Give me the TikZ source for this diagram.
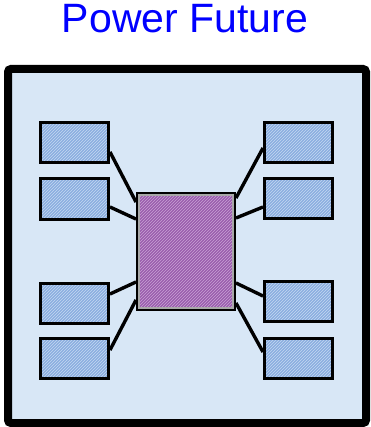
\documentclass[tikz,border=0pt]{standalone}
\usepackage{fontspec}
\setmainfont{Liberation Sans}
\usetikzlibrary{positioning,calc,backgrounds,patterns}
\definecolor{pfTitle}{HTML}{0000FF}
\definecolor{pfSky}{HTML}{D8E7F6}
\definecolor{pfBlue}{HTML}{8BAEE0}
\definecolor{pfBlueHi}{HTML}{C4D8F2}
\definecolor{pfPurple}{HTML}{9A5EAD}
\definecolor{pfPurpleHi}{HTML}{C9A2D5}
\definecolor{pfRim}{HTML}{A8A8A8}

\begin{document}
\begin{tikzpicture}[x=1pt, y=-1pt,
  frame/.style={draw=black, fill=pfSky, line width=8pt, rounded corners=3pt},
  unit/.style={draw=black, line width=3pt, preaction={fill=pfBlue},
               pattern=north east lines, pattern color=pfBlueHi,
               minimum width=68pt, minimum height=40pt, inner sep=0pt},
  hub/.style={draw=black, line width=3pt, preaction={fill=pfPurple},
              pattern=north east lines, pattern color=pfPurpleHi,
              minimum width=97pt, minimum height=116pt, inner sep=0pt},
  rim/.style={draw=pfRim, line width=1.6pt},
  wire/.style={draw=black, line width=3.4pt},
  title/.style={text=pfTitle, font=\fontsize{41}{41}\selectfont, anchor=base},
]
\useasboundingbox (0,0) rectangle (370,427);

\node[title] (title) at (185,33) {Power Future};

\node[hub] (hub) at (186,251.5) {};
\draw[rim] ([shift={(2.8pt,-2.8pt)}]hub.north west)
  rectangle ([shift={(-2.8pt,2.8pt)}]hub.south east);

\begin{scope}[on background layer]
  \draw[frame] (8,69) rectangle (366,423);
\end{scope}

% satellite boxes: name / x / y / wire offset at box / wire offset at hub
\foreach \nm/\xx/\yy/\ob/\oh/\sd/\hs in {
    l1/74.5/142.5/-9.5/49.5/east/west,
    l2/74.5/199/-8/32.5/east/west,
    l3/74.5/303.5/9.5/-30.5/east/west,
    l4/74.5/358.5/8.5/-48.5/east/west,
    r1/298.5/142.5/-5.5/53.5/west/east,
    r2/298.5/198.5/-8.5/33.5/west/east,
    r3/298.5/301.5/5.5/-31.5/west/east,
    r4/298.5/358/6/-51.5/west/east} {
  \node[unit] (\nm) at (\xx,\yy) {};
  \begin{scope}[on background layer]
    \draw[wire] ([yshift=\ob pt]\nm.\sd) -- ([yshift=\oh pt]hub.\hs);
  \end{scope}
}

\end{tikzpicture}
\end{document}
